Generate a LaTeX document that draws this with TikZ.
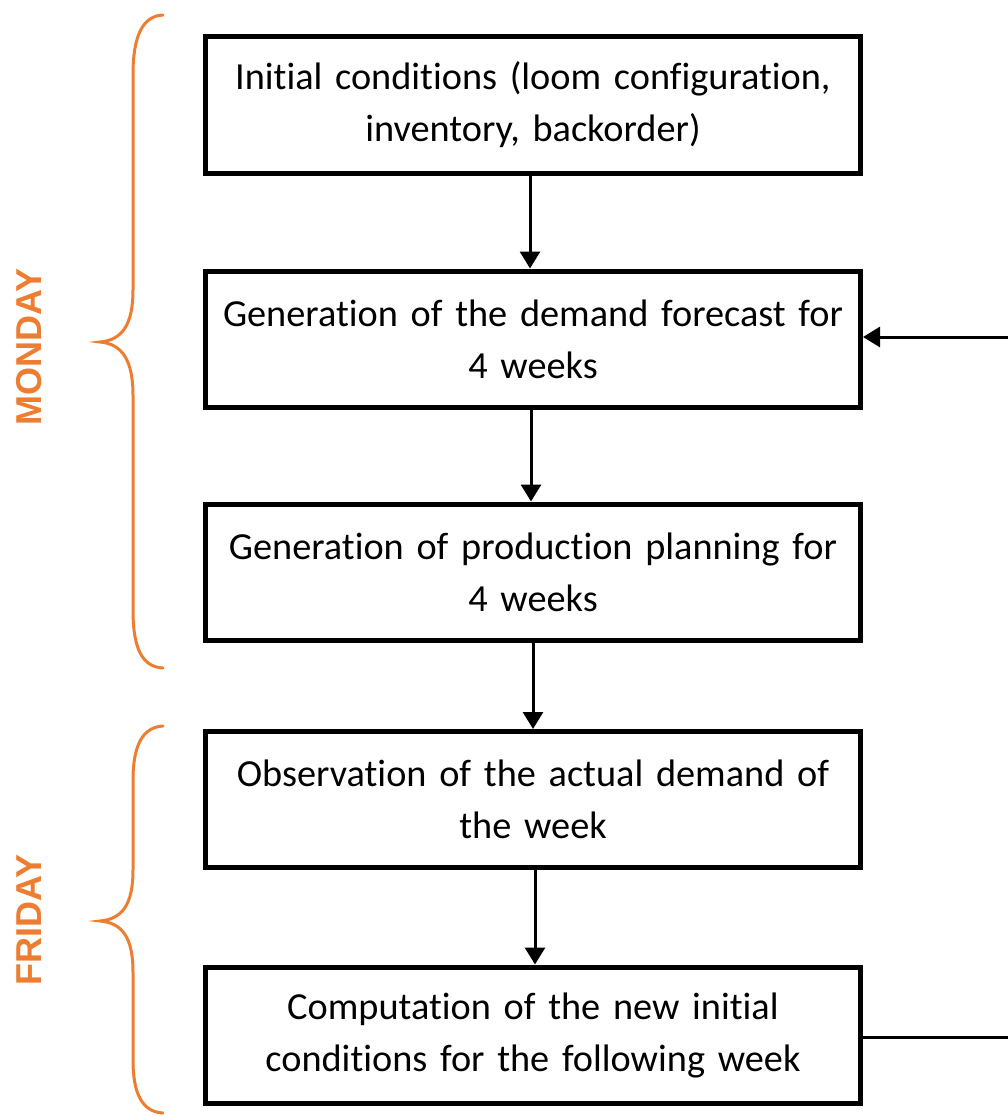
\documentclass[tikz,border=0pt]{standalone}
\usepackage{fontspec}
\setmainfont{Carlito}[Ligatures=NoCommon]
\newfontfamily\daysfont{Liberation Sans}
\usetikzlibrary{arrows.meta}
\definecolor{dayorange}{HTML}{ED7D31}
\begin{document}
\begin{tikzpicture}[x=1pt,y=-1pt,
  stepbox/.style={draw,line width=5pt,minimum width=655pt,minimum height=136pt,
    align=center,text width=630pt,inner sep=0pt,
    font=\fontsize{38.3}{52}\selectfont},
  flow/.style={line width=3pt,-{Triangle[length=17pt,width=20pt]}},
  plainline/.style={line width=3pt},
  brace/.style={draw=dayorange,line width=3pt,line cap=round},
  daylabel/.style={text=dayorange,rotate=90,font=\daysfont\bfseries\fontsize{36}{40}\selectfont}]
\useasboundingbox (0,0) rectangle (1007,1116);

\node[stepbox] (b1) at (533,105)    {Initial conditions (loom configuration,\\ inventory, backorder)};
\node[stepbox] (b2) at (533,339)    {Generation of the demand forecast for\\ 4 weeks};
\node[stepbox] (b3) at (533,572)    {Generation of production planning for\\ 4 weeks};
\node[stepbox] (b4) at (533,799.5)  {Observation of the actual demand of\\ the week};
\node[stepbox] (b5) at (533,1035)   {Computation of the new initial\\ conditions for the following week};

\draw[flow] ([xshift=-3pt]b1.south) -- ([xshift=-3pt]b2.north);
\draw[flow] ([xshift=-2pt]b2.south) -- ([xshift=-2pt]b3.north);
\draw[flow] (b3.south) -- (b4.north);
\draw[flow] ([xshift=2pt]b4.south) -- ([xshift=2pt]b5.north);

% feedback from the last step back to the forecast
\coordinate (loopin) at (1012,337);
\coordinate (loopout) at (1012,1037);
\draw[flow] (loopin) -- (b2.east |- loopin);
\draw[plainline] (b5.east |- loopout) -- (loopout);

% day braces
\draw[brace] (163,15) .. controls (143,16) and (133,35) .. (133,75)
  -- (133,290) .. controls (133,325) and (122,340) .. (100,342)
  .. controls (122,344) and (133,360) .. (133,395)
  -- (133,610) .. controls (133,650) and (143,667) .. (163,668);
\draw[brace] (163,726) .. controls (143,727) and (133,745) .. (133,780)
  -- (133,870) .. controls (133,905) and (122,919) .. (100,921)
  .. controls (122,923) and (133,937) .. (133,972)
  -- (133,1060) .. controls (133,1095) and (143,1112) .. (163,1113);

\node[daylabel] (mon) at (29,347) {MONDAY};
\node[daylabel] (fri) at (29,920) {FRIDAY};
\end{tikzpicture}
\end{document}
